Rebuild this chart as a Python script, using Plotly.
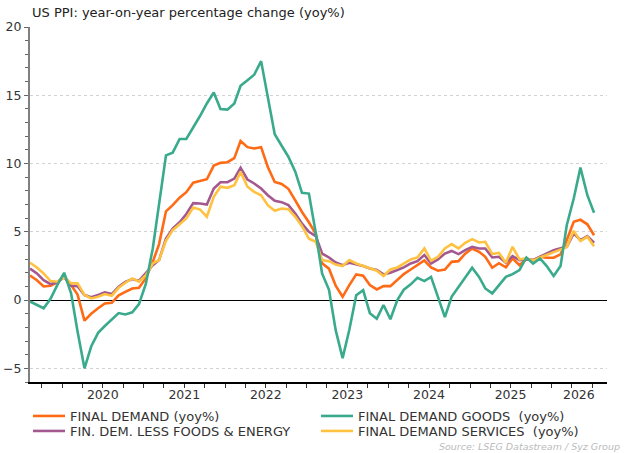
import pandas as pd
import plotly.graph_objects as go

# Monthly observations, Aug 2019 .. Jul 2026
dates = pd.date_range("2019-08-01", periods=84, freq="MS") + pd.Timedelta(days=9)

final_demand = [
    1.8, 1.45, 1.0, 1.05, 1.3, 1.7, 1.1, 0.4, -1.5, -1.0, -0.6, -0.25,
    -0.2, 0.35, 0.6, 0.85, 0.9, 1.6, 2.8, 4.1, 6.5, 6.95, 7.5, 7.9,
    8.6, 8.75, 8.85, 9.85, 10.05, 10.1, 10.4, 11.65, 11.2, 11.1, 11.2, 9.75,
    8.65, 8.5, 8.15, 7.3, 6.45, 5.7, 4.85, 2.7, 2.3, 1.05, 0.24, 1.1,
    1.88, 1.78, 1.1, 0.78, 1.02, 1.02, 1.5, 1.9, 2.24, 2.56, 2.9, 2.4,
    2.15, 2.24, 2.8, 2.85, 3.4, 3.78, 3.54, 3.17, 2.37, 2.7, 2.4, 3.05,
    2.56, 3.0, 2.93, 3.17, 3.1, 3.1, 3.35, 4.4, 5.73, 5.88, 5.55, 4.75,
]
final_demand_goods = [
    -0.1, -0.35, -0.6, 0.1, 1.1, 2.0, 0.5, -2.3, -5.0, -3.4, -2.4, -1.9,
    -1.4, -0.95, -1.05, -0.9, -0.3, 1.2, 3.8, 7.2, 10.6, 10.8, 11.8, 11.8,
    12.6, 13.5, 14.4, 15.2, 14.0, 13.95, 14.4, 15.7, 16.1, 16.5, 17.5, 14.8,
    12.15, 11.3, 10.5, 9.4, 7.85, 7.8, 4.9, 1.95, 0.75, -2.2, -4.25, -2.17,
    0.35, 0.72, -0.96, -1.36, -0.36, -1.4, 0.0, 0.76, 1.15, 1.63, 1.39, 1.7,
    0.3, -1.25, 0.24, 0.98, 1.7, 2.37, 1.7, 0.85, 0.49, 1.1, 1.7, 1.9,
    2.2, 3.12, 2.68, 3.05, 2.49, 1.76, 2.49, 5.5, 7.44, 9.7, 7.68, 6.4,
]
less_food_energy = [
    2.3, 1.95, 1.46, 1.17, 1.3, 1.7, 1.05, 1.02, 0.37, 0.2, 0.37, 0.56,
    0.44, 0.98, 1.34, 1.54, 1.4, 1.95, 2.56, 2.93, 4.5, 5.24, 5.7, 6.3,
    7.1, 7.07, 7.0, 8.17, 8.63, 8.63, 8.9, 9.68, 8.83, 8.54, 8.17, 7.68,
    7.27, 7.17, 6.95, 6.34, 5.6, 5.0, 4.68, 3.41, 3.12, 2.75, 2.56, 2.73,
    2.63, 2.49, 2.32, 2.2, 1.88, 2.0, 2.2, 2.39, 2.68, 2.85, 3.3, 2.68,
    2.98, 3.41, 3.6, 3.37, 3.66, 3.9, 3.78, 3.78, 3.12, 3.17, 2.73, 3.22,
    2.93, 2.98, 2.93, 3.17, 3.41, 3.66, 3.8, 3.9, 4.88, 4.39, 4.68, 4.2,
]
services = [
    2.73, 2.39, 1.95, 1.39, 1.34, 1.7, 1.22, 1.22, 0.37, 0.12, 0.24, 0.44,
    0.32, 0.9, 1.27, 1.59, 1.34, 1.83, 2.68, 2.93, 4.35, 5.12, 5.56, 5.98,
    6.78, 6.63, 6.1, 7.56, 8.3, 8.22, 8.41, 9.39, 8.3, 7.93, 7.68, 6.95,
    6.54, 6.7, 6.66, 6.1, 5.41, 4.5, 4.27, 2.93, 2.85, 2.6, 2.49, 2.93,
    2.68, 2.49, 2.32, 2.15, 1.76, 2.24, 2.39, 2.68, 2.98, 3.12, 3.78, 2.88,
    3.17, 3.78, 4.1, 3.78, 4.2, 4.46, 4.22, 4.27, 3.37, 3.46, 2.73, 3.9,
    2.98, 3.05, 2.88, 3.12, 3.3, 3.5, 3.66, 3.88, 5.07, 4.32, 4.63, 3.95,
]

year_labels = ["2020", "2021", "2022", "2023", "2024", "2025", "2026"]
year_label_pos = ["2020-07-01", "2021-07-01", "2022-07-01", "2023-07-01",
                  "2024-07-01", "2025-07-01", "2026-05-03"]
quarter_ticks = [d.strftime("%Y-%m-%d") for d in
                 pd.date_range("2019-10-01", "2026-07-01", freq="QS")]
y_ticks = [-5, 0, 5, 10, 15, 20]

FONT = "DejaVu Sans"
TXT = "#333333"

# (name, values, colour, legend row, rank)
series = [
    ("FINAL DEMAND (yoy%)", final_demand, "#FF6A14", "legend", 1),
    ("FIN. DEM. LESS FOODS & ENERGY", less_food_energy, "#A3598F", "legend2", 1),
    ("FINAL DEMAND SERVICES\u00a0 (yoy%)", services, "#FFC240", "legend2", 2),
    ("FINAL DEMAND GOODS\u00a0 (yoy%)", final_demand_goods, "#3AAA8C", "legend", 2),
]

fig = go.Figure()
for name, vals, col, leg, rank in series:
    fig.add_trace(go.Scatter(
        x=dates, y=vals, name=name, mode="lines",
        line=dict(color=col, width=2.6), legend=leg, legendrank=rank,
    ))

legend_common = dict(orientation="h", xref="container", xanchor="left",
                     yref="container", yanchor="middle",
                     itemwidth=32,
                     entrywidth=241, entrywidthmode="pixels",
                     font=dict(family=FONT, size=13, color=TXT),
                     bgcolor="rgba(0,0,0,0)", traceorder="normal")

fig.update_layout(
    width=624, height=453,
    margin=dict(l=30, r=17, t=27, b=71),
    paper_bgcolor="white", plot_bgcolor="white",
    font=dict(family=FONT, size=12.5, color=TXT),
    title=dict(text="US PPI: year-on-year percentage change (yoy%)",
               x=2 / 577, xref="paper", xanchor="left",
               y=1 - 12 / 453, yref="container", yanchor="middle",
               font=dict(family=FONT, size=13, color="#222222")),
    showlegend=True,
    legend=dict(x=28 / 624, y=1 - 416 / 453, **legend_common),
    legend2=dict(x=28 / 624, y=1 - 431 / 453, **legend_common),
    annotations=[dict(text="<i>Source: LSEG Datastream / Syz Group</i>",
                      x=(622 - 30) / 577, xref="paper", xanchor="right",
                      y=(382 - 446) / 355, yref="paper", yanchor="middle",
                      showarrow=False,
                      font=dict(family=FONT, size=9.5, color="#BBBBBB"))],
)

fig.update_xaxes(
    type="date", range=["2019-08-10", "2026-09-06"], automargin=False,
    tickmode="array", tickvals=year_label_pos, ticktext=year_labels,
    ticks="", showgrid=False, zeroline=False,
    showline=True, linecolor="#000000", linewidth=1.5,
    tickfont=dict(family=FONT, size=12.5, color=TXT),
    minor=dict(tickvals=quarter_ticks, ticks="outside", ticklen=4,
               tickwidth=1, tickcolor="#333333", showgrid=False),
)

fig.update_yaxes(
    range=[-6, 20], automargin=False, tickmode="array", tickvals=y_ticks,
    ticks="outside", ticklen=4, tickwidth=1, tickcolor="#666666",
    showgrid=True, gridcolor="#D2D2D2", griddash="dot", gridwidth=1,
    zeroline=True, zerolinecolor="#000000", zerolinewidth=1.3,
    showline=True, linecolor="#808080", linewidth=2,
    tickfont=dict(family=FONT, size=12.5, color=TXT),
    minor=dict(dtick=1, tick0=0, ticks="outside", ticklen=3, tickwidth=1,
               tickcolor="#666666", showgrid=False),
)

fig.write_html("out.html",
               config={"displayModeBar": False},
               post_script="document.body.style.margin='0';"
                           "document.body.style.padding='0';")
